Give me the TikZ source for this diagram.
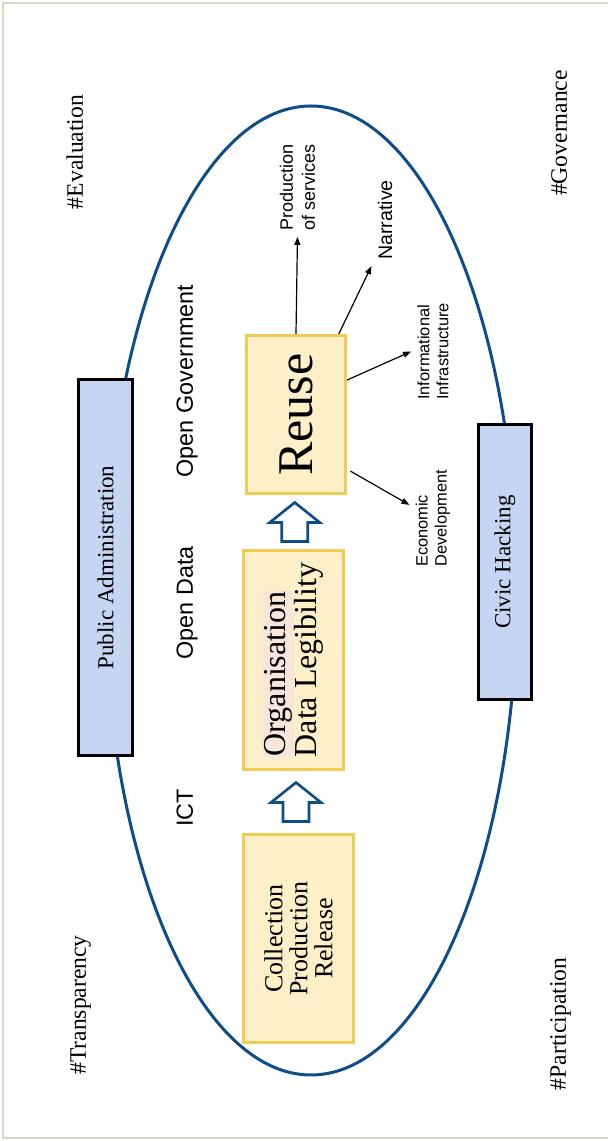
\documentclass[tikz,border=0pt]{standalone}
\usepackage{fontspec}
\setmainfont{Liberation Serif}
\setsansfont{Liberation Sans}
\usetikzlibrary{calc,arrows.meta}

\definecolor{ringblue}{HTML}{0F4C8A}
\definecolor{stepfill}{HTML}{FDF0C8}
\definecolor{stepline}{HTML}{F0CC55}
\definecolor{actorfill}{HTML}{C6D6F2}
\definecolor{framegray}{HTML}{D9D6C3}
\definecolor{orgpink}{HTML}{F8E6DA}

\tikzset{
  stepbox/.style={draw=stepline, fill=stepfill, line width=1.5pt, inner sep=0pt, align=center},
  actor/.style={draw=black, fill=actorfill, line width=1.5pt, inner sep=0pt,
    font=\fontsize{11.5}{13}\selectfont},
  tag/.style={anchor=base, font=\fontsize{11.8}{14}\selectfont},
  stage/.style={anchor=base, font=\sffamily\fontsize{11.7}{14}\selectfont},
  outlabel/.style={inner sep=3pt, align=left, font=\sffamily\fontsize{8.2}{9.5}\selectfont},
  outarrow/.style={line width=0.6pt, -{Triangle[length=4pt,width=3pt]}},
  blockarrow/.style={draw=ringblue, fill=white, line width=1.3pt, line join=miter},
}

\begin{document}
\begin{tikzpicture}[x=0.5pt, y=0.5pt, rotate=90, transform shape]
  \useasboundingbox (0,0) rectangle (1141,607);
  % frame
  \draw[framegray, line width=1pt] (3,-5) -- (3,604) -- (1138,604) -- (1138,-5);
  % cycle
  \draw[ringblue, line width=1.5pt] (550.5,296) ellipse [x radius=484.5, y radius=206];

  \node[actor, minimum width=188pt, minimum height=27pt] (admin) at (573.5,501.5) {Public Administration};
  \node[actor, minimum width=137.5pt, minimum height=26.5pt] (civic) at (579,102) {Civic Hacking};

  \node[stepbox, minimum width=104pt, minimum height=55pt,
    font=\fontsize{13}{12.5}\selectfont] (coll) at (202.5,308.5) {Collection\\Production\\Release};
  \node[stepbox, align=left, minimum width=109.5pt, minimum height=50pt,
    font=\fontsize{16}{15.5}\selectfont] (org) at (481,313.5)
    {{\setlength\fboxsep{0.5pt}\colorbox{orgpink}{Organisation}}\\Data Legibility};
  \node[stepbox, minimum width=79pt, minimum height=49.5pt,
    font=\fontsize{25}{28}\selectfont] (reuse) at (726.5,311) {Reuse};

  \coordinate (a1) at ($(coll.east)!.5!(org.west)$);
  \coordinate (a2) at ($(org.east)!.5!(reuse.west)$);
  \foreach \a in {a1,a2}
    \draw[blockarrow] ($(\a)+(-19.5,-13)$) -- ++(19,0) -- ++(0,-12) -- ++(20,25)
      -- ++(-20,25) -- ++(0,-12) -- ++(-19,0) -- cycle;

  \node[stage] (ict) at (333,414) {ICT};
  \node[stage] (odata) at (538,414) {Open Data};
  \node[stage] (ogov) at (760,414) {Open Government};

  \node[tag] (eval) at (989,524) {\#Evaluation};
  \node[tag] (gov) at (1008,40) {\#Governance};
  \node[tag] (transp) at (136,521) {\#Transparency};
  \node[tag] (partic) at (117,41) {\#Participation};

  \node[outlabel, font=\sffamily\fontsize{9}{11}\selectfont] (prod) at (953.5,309.5) {Production\\of services};
  \node[outlabel, font=\sffamily\fontsize{9.8}{11}\selectfont] (narr) at (921,222) {Narrative};
  \node[outlabel] (info) at (789.5,174) {Informational\\Infrastructure};
  \node[outlabel] (econ) at (622.5,174) {Economic\\Development};

  \draw[outarrow] (reuse.east) -- (prod.west);
  \draw[outarrow] (reuse.-28) -- (narr.north west);
  \draw[outarrow] (reuse.-56) -- (info.north);
  \draw[outarrow, shorten <=2pt] (reuse.-137) -- (econ.60);
\end{tikzpicture}
\end{document}
